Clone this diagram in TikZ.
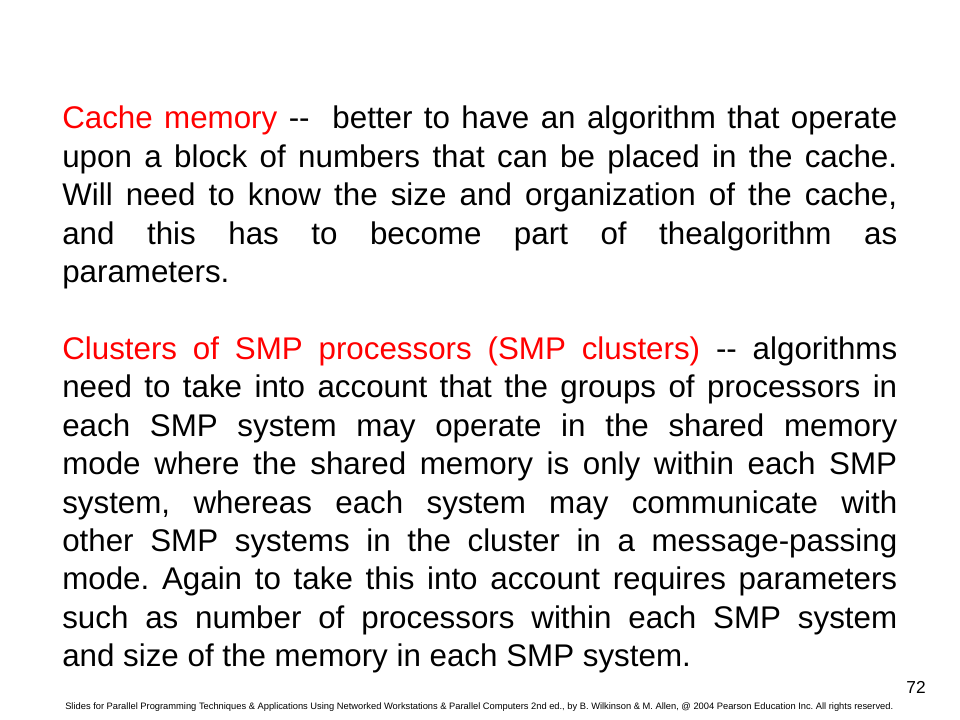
\documentclass[tikz,border=0pt]{standalone}
\usepackage{fontspec}
\usepackage{graphicx}
\setmainfont{Liberation Sans}
\frenchspacing
\newcommand\dd{\mbox{-}\mbox{-}}
\newcommand\jl[1]{\makebox[626.25pt][s]{#1}}
\begin{document}
\begin{tikzpicture}[x=0.75pt,y=-0.75pt,
  txtline/.style={anchor=base west, inner sep=0pt, font=\fontsize{23.5}{28}\selectfont}]
\useasboundingbox[fill=white] (0,0) rectangle (960,720);
% paragraph 1
\node[txtline] (a1) at (62,129) {\jl{\textcolor{red}{Cache memory} \dd\ \ better to have an algorithm that operate}};
\node[txtline] (a2) at (62,167.4) {\jl{upon a block of numbers that can be placed in the cache.}};
\node[txtline] (a3) at (62,205.8) {\jl{Will need to know the size and organization of the cache,}};
\node[txtline] (a4) at (62,244.2) {\jl{and this has to become part of thealgorithm as}};
\node[txtline] (a5) at (62,282.6) {parameters.};
% paragraph 2
\node[txtline] (b1) at (62,359.4) {\jl{\textcolor{red}{Clusters of SMP processors (SMP clusters)} \dd\ algorithms}};
\node[txtline] (b2) at (62,397.8) {\jl{need to take into account that the groups of processors in}};
\node[txtline] (b3) at (62,436.2) {\jl{each SMP system may operate in the shared memory}};
\node[txtline] (b4) at (62,474.6) {\jl{mode where the shared memory is only within each SMP}};
\node[txtline] (b5) at (62,513) {\jl{system, whereas each system may communicate with}};
\node[txtline] (b6) at (62,551.4) {\jl{other SMP systems in the cluster in a message-passing}};
\node[txtline] (b7) at (62,589.8) {\jl{mode. Again to take this into account requires parameters}};
\node[txtline] (b8) at (62,628.2) {\jl{such as number of processors within each SMP system}};
\node[txtline] (b9) at (62,666.6) {and size of the memory in each SMP system.};
% page number and footer
\node[anchor=base east, inner sep=0pt, font=\fontsize{13}{15}\selectfont] (pg) at (926,693.5) {72};
\node[anchor=base west, inner sep=0pt, font=\fontsize{7}{8}\selectfont] (foot) at (65,709)
  {\resizebox{621pt}{!}{Slides for Parallel Programming Techniques \& Applications Using Networked Workstations \& Parallel Computers 2nd ed., by B. Wilkinson \& M. Allen, @ 2004 Pearson Education Inc. All rights reserved.}};
\end{tikzpicture}
\end{document}
